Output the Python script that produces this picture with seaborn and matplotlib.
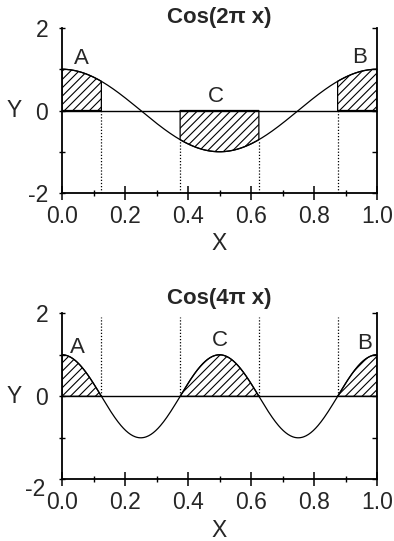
import numpy as np
import pandas as pd
import matplotlib
matplotlib.use("Agg")
import matplotlib.pyplot as plt
from matplotlib.ticker import MultipleLocator
from matplotlib.transforms import ScaledTranslation
import seaborn as sns

# Panel definitions: cosine frequency (in units of pi) and the titles
frequencies = [2, 4]
titles = ["Cos(2\u03c0 x)", "Cos(4\u03c0 x)"]

# Region boundaries along x
boundaries = [0.125, 0.375, 0.625, 0.875]
# Shaded intervals per panel: (start, end)
intervals = [(0.0, 0.125), (0.375, 0.625), (0.875, 1.0)]

# Region labels and their positions (x, y) for each panel
region_labels = ["A", "C", "B"]
label_pos_top = [(0.06, 1.27), (0.49, 0.33), (0.946, 1.28)]
label_pos_bottom = [(0.05, 1.18), (0.50, 1.35), (0.96, 1.28)]

sns.set_theme(style="ticks")
plt.rcParams["font.family"] = ["Liberation Sans", "DejaVu Sans"]
plt.rcParams["hatch.linewidth"] = 0.8
plt.rcParams["hatch.color"] = "black"

W, H = 394, 541
fig = plt.figure(figsize=(W / 100, H / 100), dpi=100)
ax_top = fig.add_axes([62 / W, 1 - 193 / H, 315 / W, 165 / H])
ax_bot = fig.add_axes([62 / W, 1 - 479.3 / H, 315 / W, 166 / H])

x = np.linspace(0, 1, 401)


def style_axes(ax, title, title_pad):
    ax.set_xlim(0, 1)
    ax.set_ylim(-2, 2)
    ax.spines["top"].set_visible(False)
    ax.spines["right"].set_visible(False)
    for s in ("left", "bottom"):
        ax.spines[s].set_linewidth(1.3)
        ax.spines[s].set_color("black")
    ax.xaxis.set_minor_locator(MultipleLocator(0.1))
    ax.yaxis.set_minor_locator(MultipleLocator(1))
    ax.set_xticks([0, 0.2, 0.4, 0.6, 0.8, 1.0])
    ax.set_xticklabels(["0.0", "0.2", "0.4", "0.6", "0.8", "1.0"])
    ax.set_yticks([-2, 0, 2])
    ax.set_yticklabels(["-2", "0", "2"])
    ax.tick_params(axis="x", which="major", direction="inout", length=9.5,
                   width=1.1, labelsize=16.5, pad=4, color="black")
    ax.tick_params(axis="x", which="minor", direction="inout", length=4,
                   width=1.0, color="black")
    ax.tick_params(axis="y", which="major", direction="inout", length=4,
                   width=1.0, labelsize=16.5, pad=8, color="black")
    ax.tick_params(axis="y", which="minor", direction="inout", length=4,
                   width=1.0, color="black")
    ax.set_xlabel("X", fontsize=16.5, labelpad=3)
    ax.set_ylabel("Y", fontsize=16.5, rotation=0, va="center", ha="center")
    ax.yaxis.set_label_coords(-0.151, 0.5)
    ax.set_title(title, fontsize=16, fontweight="bold", pad=title_pad)

    right = ax.secondary_yaxis("right")
    right.set_yticks([-2, -1, 0, 1, 2])
    right.set_yticklabels([])
    right.tick_params(direction="in", length=3.5, width=1.0, color="black")
    right.spines["right"].set_linewidth(1.3)
    right.spines["right"].set_color("black")


for ax, freq, title, lab_pos, dotted_range, tpad in [
    (ax_top, frequencies[0], titles[0], label_pos_top, "below", 2.2),
    (ax_bot, frequencies[1], titles[1], label_pos_bottom, "above", 7.0),
]:
    y = np.cos(freq * np.pi * x)
    df = pd.DataFrame({"x": x, "y": y})
    sns.lineplot(data=df, x="x", y="y", ax=ax, color="black", linewidth=0.9)
    ax.axhline(0, color="black", linewidth=1.0)

    for a, b in intervals:
        m = (x >= a - 1e-9) & (x <= b + 1e-9)
        ax.fill_between(x[m], 0, y[m], facecolor="none", edgecolor="black",
                        hatch="////", linewidth=0.9)

    for xb in boundaries:
        yb = np.cos(freq * np.pi * xb)
        if dotted_range == "below":
            ax.vlines(xb, -2, min(0.0, yb), colors="black",
                      linestyles=(0, (1, 1.5)), linewidth=0.9)
        else:
            ax.vlines(xb, max(0.0, yb), 1.92, colors="black",
                      linestyles=(0, (1, 1.5)), linewidth=0.9)

    for lab, (lx, ly) in zip(region_labels, lab_pos):
        ax.text(lx, ly, lab, fontsize=16, ha="center", va="center")

    style_axes(ax, title, tpad)

# The lowest y label of the lower panel sits down and to the left
low_label = ax_bot.get_yticklabels()[0]
low_label.set_transform(low_label.get_transform()
                        + ScaledTranslation(-0.03, -0.08, fig.dpi_scale_trans))

fig.savefig("out.png", dpi=100)
